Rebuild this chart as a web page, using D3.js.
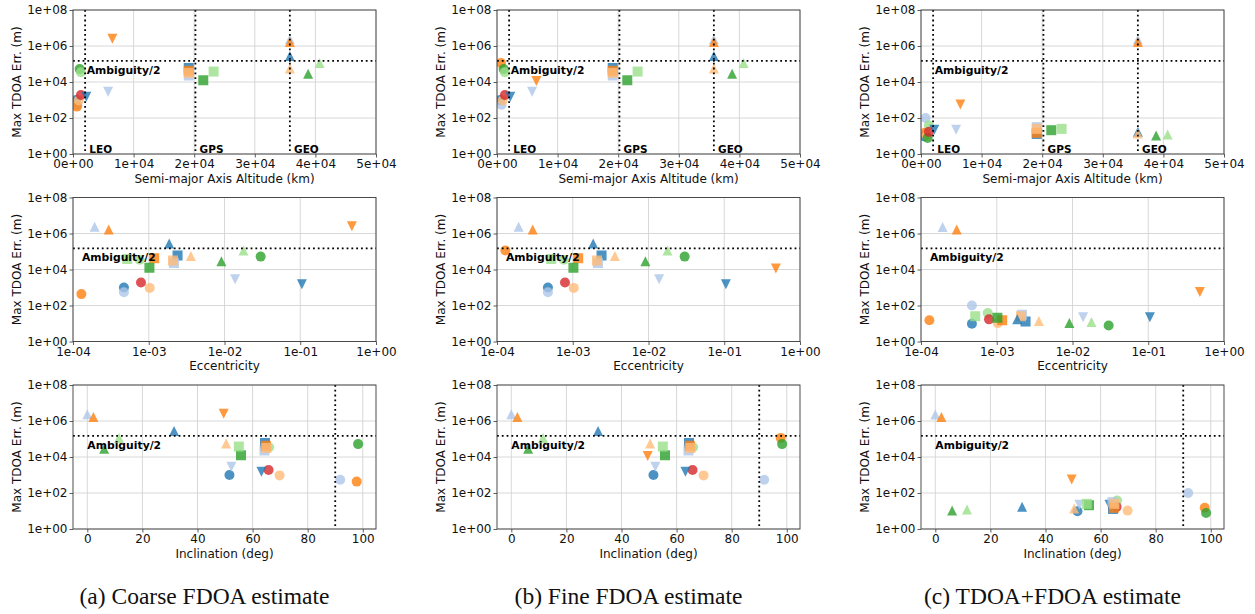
<!DOCTYPE html>
<html>
<head>
<meta charset="utf-8">
<script src="https://cdn.jsdelivr.net/npm/d3@7"></script>
<style>
  html, body { margin: 0; padding: 0; background: #fff; }
  svg { display: block; }
</style>
</head>
<body>
<script>
// ---- Satellite data (one entry per satellite) ----
// marker: "o" circle (LEO), "v" down-triangle (HEO/MEO), "s" square (GNSS), "^" triangle (GEO)
const satColor = [
  "#1f77b4", "#aec7e8", "#ff7f0e", "#ffbb78", "#2ca02c", "#98df8a", "#d62728",
  "#1f77b4", "#aec7e8", "#ff7f0e",
  "#1f77b4", "#aec7e8", "#ff7f0e", "#ffbb78", "#2ca02c", "#98df8a",
  "#1f77b4", "#aec7e8", "#ff7f0e", "#ffbb78", "#2ca02c", "#98df8a"
];
const satMarker = [
  "o", "o", "o", "o", "o", "o", "o",
  "v", "v", "v",
  "s", "s", "s", "s", "s", "s",
  "^", "^", "^", "^", "^", "^"
];
// semi-major axis altitude (km)
const altitude = [
  500, 750, 650, 950, 1100, 1300, 1300,
  2200, 5800, 6500,
  19100, 19100, 19100, 19100, 21500, 23200,
  35786, 35786, 35786, 35786, 38800, 40700
];
const eccentricity = [
  4.7e-4, 4.7e-4, 1.29e-4, 1.03e-3, 3.0e-2, 7.6e-4, 7.9e-4,
  0.105, 1.38e-2, 0.48,
  2.4e-3, 2.15e-3, 1.18e-3, 2.09e-3, 1.02e-3, 5.2e-4,
  1.86e-3, 1.93e-4, 2.96e-4, 3.6e-3, 9.1e-3, 1.78e-2
];
// inclination (deg)
const inclination = [
  51.6, 91.8, 97.8, 69.8, 98.3, 66.0, 65.8,
  63.2, 52.3, 49.5,
  64.5, 64.3, 64.8, 65.0, 55.8, 55.0,
  31.5, 0.0, 2.2, 50.4, 6.1, 11.5
];
// max TDOA error (m) for each estimator
const errCoarse = [
  1.0e3, 5.5e2, 4.3e2, 9.5e2, 5.2e4, 3.5e4, 1.9e3,
  1.5e3, 2.9e3, 2.5e6,
  6.0e4, 2.3e4, 4.2e4, 3.2e4, 1.25e4, 3.8e4,
  2.8e5, 2.4e6, 1.65e6, 5.6e4, 2.9e4, 1.15e5
];
const errFine = [
  1.0e3, 5.5e2, 1.15e5, 9.5e2, 5.2e4, 3.5e4, 1.9e3,
  1.5e3, 2.9e3, 1.15e4,
  6.0e4, 2.3e4, 4.2e4, 3.2e4, 1.25e4, 3.8e4,
  2.8e5, 2.4e6, 1.65e6, 5.6e4, 2.9e4, 1.15e5
];
const errTdoaFdoa = [
  9.7, 100, 15, 10.5, 7.8, 38, 17,
  22, 22, 560,
  13, 31, 15, 25, 21, 25,
  17, 2.3e6, 1.65e6, 13.6, 10.5, 12
];

// ---- Axis / reference settings ----
const yTickValues = [1e0, 1e2, 1e4, 1e6, 1e8];
const altTicks = [0, 1e4, 2e4, 3e4, 4e4, 5e4];
const eccTicks = [1e-4, 1e-3, 1e-2, 1e-1, 1e0];
const incTicks = [0, 20, 40, 60, 80, 100];
const orbitLines = [2000, 20200, 35786];
const orbitNames = ["LEO", "GPS", "GEO"];
const polarIncl = [90];
const ambiguityHalf = 1.5e5;
const captions = ["(a) Coarse FDOA estimate", "(b) Fine FDOA estimate", "(c) TDOA+FDOA estimate"];
const estimates = [errCoarse, errFine, errTdoaFdoa];

// ---- Layout ----
const W = 1255, H = 614;
const colLeft = [73, 497, 921];
const rowTop = [10, 197.5, 385];
const pw = 303, ph = 144;
const ms = 10;

const svg = d3.select("body").append("svg")
  .attr("width", W).attr("height", H)
  .attr("font-family", "DejaVu Sans, sans-serif");
svg.append("rect").attr("width", W).attr("height", H).attr("fill", "#fff");

function sciFmt(v) {
  if (v === 0) return "0e+00";
  const e = Math.floor(Math.log10(Math.abs(v)) + 1e-9);
  const m = Math.round(v / Math.pow(10, e));
  const sign = e < 0 ? "-" : "+";
  const ae = Math.abs(e);
  return m + "e" + sign + (ae < 10 ? "0" + ae : ae);
}

function markerPath(type) {
  const h = ms / 2;
  if (type === "o") return d3.symbol(d3.symbolCircle, Math.PI * h * h)();
  if (type === "s") return `M${-h},${-h}H${h}V${h}H${-h}Z`;
  if (type === "^") return `M0,${-h}L${-h},${h}L${h},${h}Z`;
  return `M0,${h}L${-h},${-h}L${h},${-h}Z`;
}

const rows = [
  { x: altitude, scale: () => d3.scaleLinear().domain([0, 5e4]), ticks: altTicks,
    label: "Semi-major Axis Altitude (km)", vlines: orbitLines, vnames: orbitNames, ambX: 2250 },
  { x: eccentricity, scale: () => d3.scaleLog().domain([1e-4, 1]), ticks: eccTicks,
    label: "Eccentricity", vlines: [], vnames: [], ambX: 1.31e-4 },
  { x: inclination, scale: () => d3.scaleLinear().domain([-5.2, 104.8]), ticks: incTicks,
    label: "Inclination (deg)", vlines: polarIncl, vnames: [], ambX: 0 }
];

let clipId = 0;
rows.forEach((row, ri) => {
  estimates.forEach((errs, ci) => {
    const x0 = colLeft[ci], y0 = rowTop[ri];
    const g = svg.append("g").attr("transform", `translate(${x0},${y0})`);
    const xs = row.scale().range([0, pw]);
    const ys = d3.scaleLog().domain([1, 1e8]).range([ph, 0]);

    // grid
    const grid = g.append("g").attr("stroke", "#d4d4d4").attr("stroke-width", 0.9);
    row.ticks.forEach(t => grid.append("line")
      .attr("x1", xs(t)).attr("x2", xs(t)).attr("y1", 0).attr("y2", ph));
    yTickValues.forEach(t => grid.append("line")
      .attr("x1", 0).attr("x2", pw).attr("y1", ys(t)).attr("y2", ys(t)));

    // markers
    const cid = "clip" + (clipId++);
    g.append("clipPath").attr("id", cid).append("rect").attr("width", pw).attr("height", ph);
    const pts = g.append("g").attr("clip-path", `url(#${cid})`);
    d3.range(errs.length).forEach(i => {
      pts.append("path")
        .attr("d", markerPath(satMarker[i]))
        .attr("transform", `translate(${xs(row.x[i])},${ys(errs[i])})`)
        .attr("fill", satColor[i])
        .attr("fill-opacity", 0.8);
    });

    // reference lines
    const ref = g.append("g").attr("stroke", "#000").attr("stroke-width", 1.8)
      .attr("stroke-dasharray", "1.8,3");
    ref.append("line").attr("x1", 0).attr("x2", pw)
      .attr("y1", ys(ambiguityHalf)).attr("y2", ys(ambiguityHalf));
    row.vlines.forEach(v => ref.append("line")
      .attr("x1", xs(v)).attr("x2", xs(v)).attr("y1", 0).attr("y2", ph));

    // reference labels
    g.append("text").text("Ambiguity/2")
      .attr("x", xs(row.ambX)).attr("y", ys(ambiguityHalf) + 13)
      .attr("font-size", 10.8).attr("font-weight", "bold").attr("fill", "#000");
    row.vnames.forEach((n, k) => g.append("text").text(n)
      .attr("x", xs(row.vlines[k]) + 4.2).attr("y", ph - 1.5)
      .attr("font-size", 10.5).attr("font-weight", "bold").attr("fill", "#000"));

    // axes
    const xAxis = d3.axisBottom(xs).tickValues(row.ticks).tickFormat(sciFmt).tickSize(3.5).tickPadding(2);
    const yAxis = d3.axisLeft(ys).tickValues(yTickValues).tickFormat(sciFmt).tickSize(3.5).tickPadding(2);
    const gx = g.append("g").attr("transform", `translate(0,${ph})`).call(xAxis);
    const gy = g.append("g").call(yAxis);
    if (ri === 2) {
      gx.selectAll("text").text(d => d3.format("d")(d));
    }
    [gx, gy].forEach(a => {
      a.select(".domain").remove();
      a.selectAll("line").attr("stroke", "#333").attr("stroke-width", 0.8);
      a.selectAll("text").attr("font-size", 12).attr("fill", "#111")
        .attr("font-family", "DejaVu Sans, sans-serif");
    });
    gx.selectAll("text").attr("dy", "0.71em").attr("y", 5.5);

    // frame
    g.append("rect").attr("width", pw).attr("height", ph)
      .attr("fill", "none").attr("stroke", "#3a3a3a").attr("stroke-width", 0.9);

    // axis titles
    g.append("text").text(row.label)
      .attr("x", pw / 2).attr("y", ph + 28.5)
      .attr("text-anchor", "middle").attr("font-size", 12).attr("fill", "#111");
    g.append("text").text("Max TDOA Err. (m)")
      .attr("transform", `translate(-56,${ph / 2}) rotate(-90)`)
      .attr("text-anchor", "middle").attr("dy", "0.35em")
      .attr("font-size", 12).attr("fill", "#111");
  });
});

// sub-figure captions
captions.forEach((c, ci) => {
  svg.append("text").text(c)
    .attr("x", colLeft[ci] + pw / 2 - 20).attr("y", 604)
    .attr("text-anchor", "middle")
    .attr("font-family", "Liberation Serif, Times New Roman, serif")
    .attr("font-size", 23.5).attr("fill", "#111");
});
</script>
</body>
</html>
